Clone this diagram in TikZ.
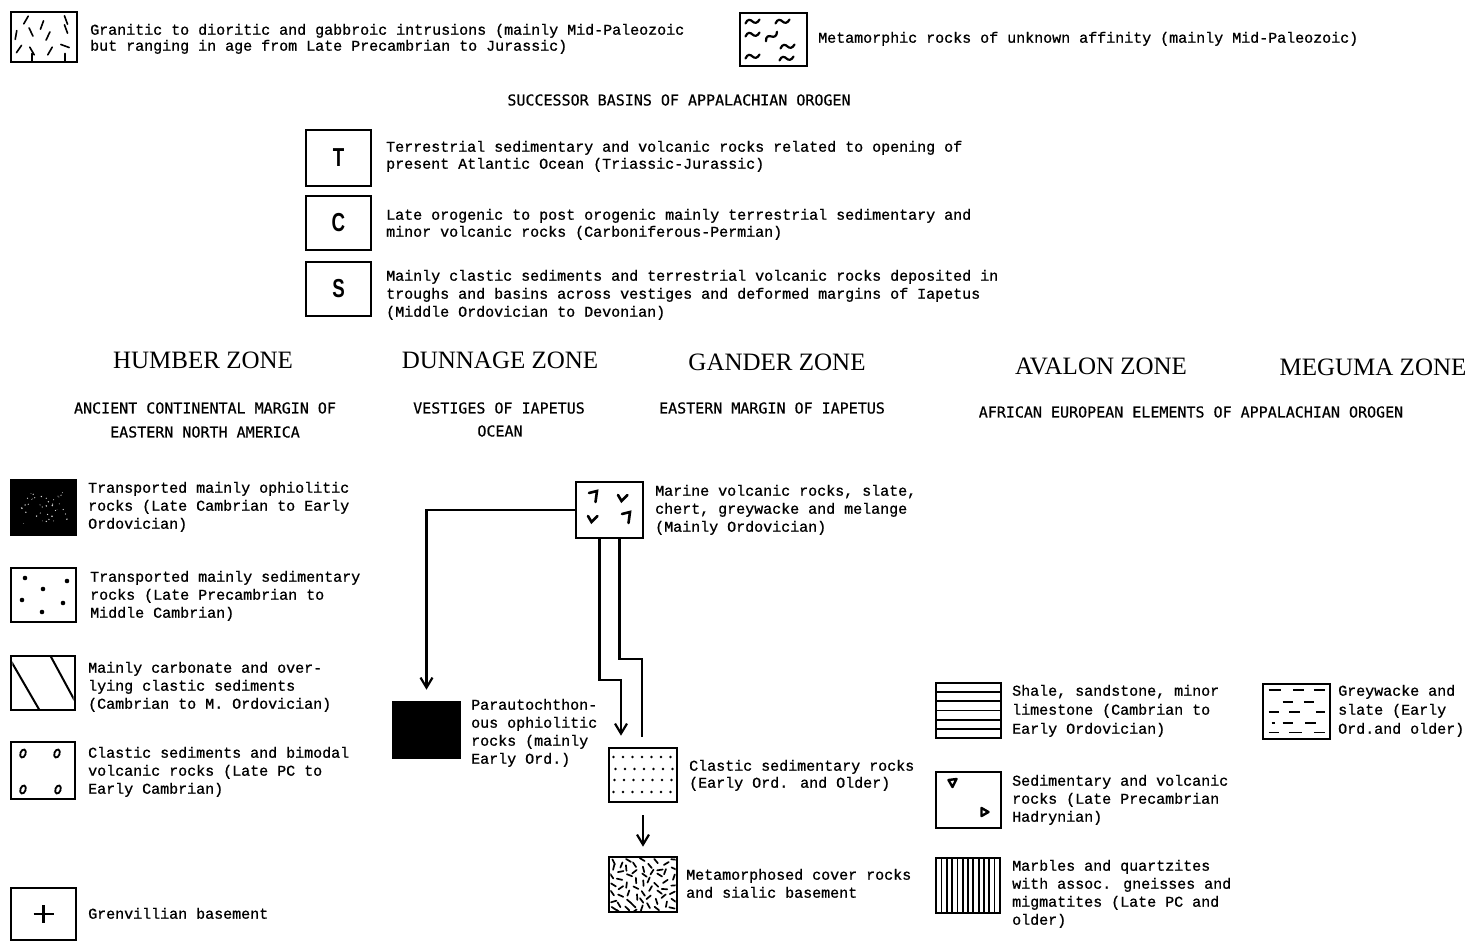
\documentclass[tikz,border=0pt]{standalone}
\usepackage{fontspec}
\usepackage{graphicx}
\usetikzlibrary{arrows.meta}
\newfontfamily\bodyf[FakeBold=0.9]{Liberation Mono}
\newfontfamily\capf[FakeBold=0.5]{DejaVu Sans Mono}
\newfontfamily\zonef{Liberation Serif}
\newfontfamily\letf{Liberation Sans}
\newcommand\gstroke[3]{\draw[pat] (#1,#2) ++(-#3:4.5) -- ++(180-#3:9);}
\newcommand\wavemark[3]{\draw[pat,line width=2.2pt,shift={(#1,#2)},rotate=#3] (-7,2) .. controls (-5,-3) and (-2,-2) .. (0,0) .. controls (2,2) and (5,2) .. (7,-2);}
\newcommand\sevmark[2]{\draw[pat,line width=2.6pt] (#1,#2) ++(-5,-3) -- ++(8,-2) -- ++(-1.5,11);}
\newcommand\vmark[2]{\draw[pat,line width=2.6pt] (#1,#2) ++(-5,-3) -- ++(3.5,6) -- ++(6,-6);}
\newcommand\ovalmark[2]{\draw[line width=1.8pt,rotate around={-20:(#1,#2)}] (#1,#2) ellipse [x radius=2.6pt,y radius=4.2pt];}
\newcommand\gwdash[3]{\draw[line width=1.8pt] (#1,#3) -- (#2,#3);}
\begin{document}
\begin{tikzpicture}[x=1pt,y=-1pt,
  lbox/.style 2 args={draw,line width=2.6pt,inner sep=0pt,minimum width=#1,minimum height=#2,fill=white},
  txt/.style={anchor=north west,inner sep=0pt,align=left,font=\bodyf\fontsize{15}{#1}\selectfont},
  txt/.default=18,
  capsh/.style={inner sep=0pt,font=\capf\fontsize{15}{18}\selectfont},
  zone/.style={inner sep=0pt,font=\zonef\fontsize{25}{30}\selectfont},
  letr/.style={inner sep=0pt,font=\letf\bfseries\fontsize{26}{30}\selectfont},
  pat/.style={line width=1.6pt,line cap=round},
  conn/.style={line width=2.2pt},
  arr/.style={conn,-{Straight Barb[length=10pt,width=12pt]}}]
\fill[white] (0,0) rectangle (1470,942);
\useasboundingbox (0,0) rectangle (1470,942);

% ---------- top legend ----------
\node[lbox={66pt}{50pt}] (gran) at (44,37) {};
\begin{scope}[shift={(gran.center)}]
  \clip (-31.7,-23.7) rectangle (31.7,23.7);
  \gstroke{-18}{-17}{60}\gstroke{-2}{-12}{70}\gstroke{22}{-17}{110}
  \gstroke{-28}{-2}{80}\gstroke{-13}{-5}{115}\gstroke{4}{-1}{65}
  \gstroke{22}{-8}{110}\gstroke{-25}{12}{55}\gstroke{-12}{14}{120}
  \gstroke{6}{14}{60}\gstroke{21}{9}{160}\gstroke{-12}{21}{90}\gstroke{21}{21}{90}
\end{scope}
\node[txt=16] (grantxt) at (90,23.3) {\strut Granitic to dioritic and gabbroic intrusions (mainly Mid-Paleozoic\\\strut but ranging in age from Late Precambrian to Jurassic)};

\node[lbox={67pt}{53pt}] (meta) at (773.5,39.5) {};
\begin{scope}[shift={(meta.center)}]
  \wavemark{-21}{-18}{0}\wavemark{9}{-18}{0}\wavemark{-21}{-5}{0}
  \wavemark{-2}{-3}{25}\wavemark{14}{7}{0}\wavemark{-21}{17}{0}\wavemark{13}{19}{0}
\end{scope}
\node[txt=16] (metatxt) at (818,31.3) {\strut Metamorphic rocks of unknown affinity (mainly Mid-Paleozoic)};

% ---------- successor basins ----------
\node[capsh] (succ) at (679,100) {SUCCESSOR BASINS OF APPALACHIAN OROGEN};

\node[lbox={65pt}{56pt}] (tbox) at (338.5,158) {};
\node[letr] (tlet) at (tbox.center) {\scalebox{0.72}[1]{T}};
\node[txt=17] (ttxt) at (386,139.6) {\strut Terrestrial sedimentary and volcanic rocks related to opening of\\\strut present Atlantic Ocean (Triassic-Jurassic)};

\node[lbox={65pt}{54pt}] (cbox) at (338.5,223) {};
\node[letr] (clet) at (cbox.center) {\scalebox{0.72}[1]{C}};
\node[txt=17] (ctxt) at (386,207.6) {\strut Late orogenic to post orogenic mainly terrestrial sedimentary and\\\strut minor volcanic rocks (Carboniferous-Permian)};

\node[lbox={65pt}{54pt}] (sbox) at (338.5,289) {};
\node[letr] (slet) at (sbox.center) {\scalebox{0.72}[1]{S}};
\node[txt] (stxt) at (386,267.9) {\strut Mainly clastic sediments and terrestrial volcanic rocks deposited in\\\strut troughs and basins across vestiges and deformed margins of Iapetus\\\strut (Middle Ordovician to Devonian)};

% ---------- zone headings ----------
\node[zone] (humber) at (203,360) {HUMBER ZONE};
\node[zone] (dunnage) at (500,360) {DUNNAGE ZONE};
\node[zone] (gander) at (777,362) {GANDER ZONE};
\node[zone] (avalon) at (1101,366) {AVALON ZONE};
\node[zone] (meguma) at (1373,367) {MEGUMA ZONE};

\node[capsh] (hsub1) at (205,408) {ANCIENT CONTINENTAL MARGIN OF};
\node[capsh] (hsub2) at (205,432) {EASTERN NORTH AMERICA};
\node[capsh] (dsub1) at (499,408) {VESTIGES OF IAPETUS};
\node[capsh] (dsub2) at (500,431) {OCEAN};
\node[capsh] (gsub) at (772,408) {EASTERN MARGIN OF IAPETUS};
\node[capsh] (asub) at (1191,412) {AFRICAN EUROPEAN ELEMENTS OF APPALACHIAN OROGEN};

% ---------- Humber column ----------
\node[lbox={65pt}{55pt},fill=black] (ophi) at (43.5,507.5) {};
\begin{scope}[shift={(ophi.center)}]
  \pgfmathsetseed{5}
  \foreach \k in {1,...,40}{
    \pgfmathsetmacro\px{-24+48*rnd}
    \pgfmathsetmacro\py{-16+32*rnd}
    \pgfmathsetmacro\pr{0.35+0.5*rnd}
    \fill[white!85!black] (\px,\py) circle [radius=\pr pt];
  }
\end{scope}
\node[txt] (ophitxt) at (88,479.9) {\strut Transported mainly ophiolitic\\\strut rocks (Late Cambrian to Early\\\strut Ordovician)};

\node[lbox={65pt}{54pt}] (seddot) at (43.5,595) {};
\begin{scope}[shift={(seddot.center)}]
  \foreach \p in {(-18.5,-17),(23.5,-14),(-0.5,-6),(-21.5,5),(19.5,8),(-1.5,17)}
    \fill \p circle [radius=2.3pt];
\end{scope}
\node[txt] (seddottxt) at (90,568.9) {\strut Transported mainly sedimentary\\\strut rocks (Late Precambrian to\\\strut Middle Cambrian)};

\node[lbox={64pt}{54pt}] (carb) at (43,683) {};
\begin{scope}[shift={(carb.center)}]
  \clip (-30.7,-25.7) rectangle (30.7,25.7);
  \draw[line width=2pt] (-32,-22) -- (-3,28);
  \draw[line width=2pt] (7,-28) -- (33,20);
\end{scope}
\node[txt] (carbtxt) at (88,659.9) {\strut Mainly carbonate and over-\\\strut lying clastic sediments\\\strut (Cambrian to M. Ordovician)};

\node[lbox={64pt}{57pt}] (bimod) at (43,770.5) {};
\begin{scope}[shift={(bimod.center)}]
  \ovalmark{-20}{-17}\ovalmark{14}{-17}\ovalmark{-20}{19}\ovalmark{15}{19}
\end{scope}
\node[txt] (bimodtxt) at (88,744.9) {\strut Clastic sediments and bimodal\\\strut volcanic rocks (Late PC to\\\strut Early Cambrian)};

\node[lbox={65pt}{52pt}] (grenv) at (43.5,914) {};
\draw[line width=2.2pt] ([xshift=-10pt]grenv.center) -- ([xshift=10pt]grenv.center)
  ([yshift=9pt]grenv.center) -- ([yshift=-9pt]grenv.center);
\node[txt] (grenvtxt) at (88,905.9) {\strut Grenvillian basement};

% ---------- Dunnage column ----------
\node[lbox={67pt}{56pt},fill=black] (para) at (426.5,730) {};
\node[txt] (paratxt) at (471,696.9) {\strut Parautochthon-\\\strut ous ophiolitic\\\strut rocks (mainly\\\strut Early Ord.)};

% ---------- Gander column ----------
\node[lbox={67pt}{56pt}] (volc) at (609.5,510) {};
\begin{scope}[shift={(volc.center)}]
  \sevmark{-15.5}{-14}\vmark{13.5}{-12}\vmark{-16.5}{9}\sevmark{17.5}{7}
\end{scope}
\node[txt] (volctxt) at (655,482.9) {\strut Marine volcanic rocks, slate,\\\strut chert, greywacke and melange\\\strut (Mainly Ordovician)};

\node[lbox={68pt}{54pt}] (clsed) at (643,775) {};
\begin{scope}[shift={(clsed.center)}]
  \foreach \i in {0,...,6}{
    \foreach \j/\yy in {0/-18,1/-6,2/5,3/17}{
      \pgfmathsetmacro\px{-28.5+\i*9.5+mod(\i*3+\j*5,3)-1}
      \fill (\px,\yy) circle [radius=1.4pt];
    }
  }
\end{scope}
\node[txt=17] (clsedtxt) at (689,758.6) {\strut Clastic sedimentary rocks\\\strut (Early Ord. and Older)};

\node[lbox={68pt}{55pt}] (metacov) at (643,884.5) {};
\begin{scope}[shift={(metacov.center)}]
  \clip (-32.7,-26.2) rectangle (32.7,26.2);
  \pgfmathsetseed{11}
  \foreach \i in {0,...,8}{
    \foreach \j in {0,...,6}{
      \pgfmathsetmacro\px{-30+\i*7.5+4*rnd-2}
      \pgfmathsetmacro\py{-24+\j*8+mod(\i,2)*4+3*rnd-1.5}
      \pgfmathsetmacro\an{180*rnd}
      \draw[pat,line width=1.7pt] (\px,\py) ++(\an:2.8) -- ++(\an+180:5.6);
    }
  }
\end{scope}
\node[txt] (metacovtxt) at (686,866.9) {\strut Metamorphosed cover rocks\\\strut and sialic basement};

% connectors
\coordinate (jL) at (621,680);
\coordinate (jR) at (642,659);
\draw[arr] (volc.west) -| ([yshift=11pt]para.north);
\draw[arr] ([xshift=-10pt]volc.south) |- (jL) -- ([xshift=-22pt,yshift=11pt]clsed.north);
\draw[conn] ([xshift=10pt]volc.south) |- (jR) -- ([xshift=-1pt,yshift=10pt]clsed.north);
\draw[arr] ([yshift=-12pt]clsed.south) -- ([yshift=9pt]metacov.north);

% ---------- Avalon column ----------
\node[lbox={65pt}{55pt}] (shale) at (968.5,710.5) {};
\begin{scope}[shift={(shale.center)}]
  \foreach \yy in {-18.3,-9.2,0,9.2,18.3}
    \draw[line width=1.8pt] (-32.5,\yy) -- (32.5,\yy);
\end{scope}
\node[txt=19] (shaletxt) at (1012,682.2) {\strut Shale, sandstone, minor\\\strut limestone (Cambrian to\\\strut Early Ordovician)};

\node[lbox={65pt}{56pt}] (sedvol) at (968.5,800) {};
\begin{scope}[shift={(sedvol.center)}]
  \draw[line width=2.4pt,line join=round] (-20,-20) -- (-12,-21) -- (-16,-13) -- cycle;
  \draw[line width=2.4pt,line join=round] (13,8) -- (13,16) -- (20,12) -- cycle;
\end{scope}
\node[txt] (sedvoltxt) at (1012,772.9) {\strut Sedimentary and volcanic\\\strut rocks (Late Precambrian\\\strut Hadrynian)};

\node[lbox={64pt}{55pt}] (marble) at (968,885.5) {};
\begin{scope}[shift={(marble.center)}]
  \foreach \i in {0,...,10}
    \draw[line width=1.8pt] (-26.5+\i*5.3,-27.5) -- (-26.5+\i*5.3,27.5);
\end{scope}
\node[txt] (marbletxt) at (1012,857.9) {\strut Marbles and quartzites\\\strut with assoc. gneisses and\\\strut migmatites (Late PC and\\\strut older)};

% ---------- Meguma column ----------
\node[lbox={67pt}{55pt}] (greyw) at (1296.5,711.5) {};
\begin{scope}[shift={(greyw.center)}]
  \gwdash{-28}{-16}{-21.6}\gwdash{-3.4}{7.4}{-21.6}\gwdash{17.4}{28}{-21.6}
  \gwdash{-14}{-3.4}{-9.5}\gwdash{7.4}{17.4}{-9.5}
  \gwdash{-28}{-17.4}{0.3}\gwdash{-7.4}{3.4}{0.3}\gwdash{19.4}{28}{0.3}
  \gwdash{-24.8}{-22}{11.1}\gwdash{-14}{-3.4}{11.1}\gwdash{8.7}{19.4}{11.1}
  \gwdash{-28}{-17.4}{20.9}\gwdash{-7.4}{5.4}{20.9}\gwdash{17.4}{28}{20.9}
\end{scope}
\node[txt=19] (greywtxt) at (1338,682.2) {\strut Greywacke and\\\strut slate (Early\\\strut Ord.and older)};
\end{tikzpicture}
\end{document}
